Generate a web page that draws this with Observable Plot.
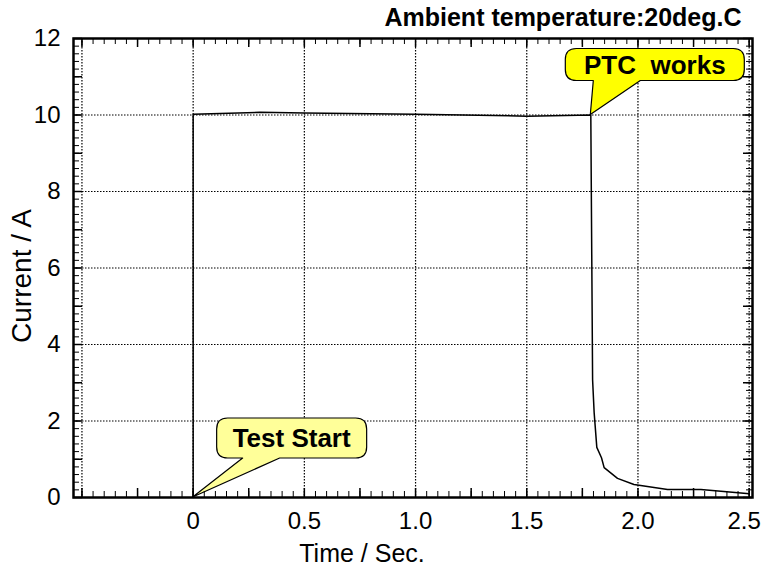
<!DOCTYPE html>
<html><head><meta charset="utf-8">
<script src="https://cdn.jsdelivr.net/npm/d3@7"></script>
<script src="https://cdn.jsdelivr.net/npm/@observablehq/plot@0.6"></script>
<style>html,body{margin:0;padding:0;background:#fff} svg{display:block}</style>
</head><body><div id="chart"></div>
<script>
// ---- data ----
const time    = [0, 0,     0.3,   0.5,   1.0,   1.5,  1.788, 1.796, 1.803, 1.815, 1.836, 1.848, 1.908, 1.982, 2.133, 2.283, 2.463, 2.5];
const current = [0, 10.02, 10.07, 10.05, 10.02, 9.97, 10.0,  3.08,  2.22,  1.31,  1.04,  0.78,  0.50,  0.34,  0.21,  0.21,  0.12,  0.10];
const xTicks = [0, 0.5, 1.0, 1.5, 2.0, 2.5];
const xTickLabels = ["0", "0.5", "1.0", "1.5", "2.0", "2.5"];
const xGrid = [-0.5, 0, 0.5, 1.0, 1.5, 2.0, 2.5];
const yTicks = [0, 2, 4, 6, 8, 10, 12];
const annoLabel = ["Test Start", "PTC  works"];
const annoTime = [0, 1.788];
const annoCurrent = [0, 10.0];
const titleText = "Ambient temperature:20deg.C";
const xLabel = "Time / Sec.";
const yLabel = "Current / A";

// ---- layout / style ----
const W = 763, H = 571;
const mL = 73, mR = 11, mT = 38, mB = 74;
const innerW = W - mL - mR, innerH = H - mT - mB;
const xMinor = d3.range(-10, 51).map(k => k * 0.05);
const xMajor = d3.range(-2, 11).map(k => k * 0.25);
const yMinor = d3.range(0, 61).map(k => k * 0.2);
const yMajor = d3.range(0, 13);
const calloutStyle = [
  {fill: "#ffff99", L: 24, R: 174, T: -79, B: -39, p1: 50, p2: 87, r: 11},
  {fill: "#ffff00", L: -25, R: 154, T: -66, B: -34, p1: 3, p2: 50, r: 11}
];
const series = time.map((t, i) => ({t, c: current[i]}));
const callouts = annoLabel.map((label, i) => ({label, x: annoTime[i], y: annoCurrent[i]}));
const font = "Liberation Sans, Arial, Helvetica, sans-serif";
const dash = "1.5,1.5";
const fmt = d => xTickLabels[xTicks.indexOf(d)];

const chart = Plot.plot({
  width: W, height: H,
  marginLeft: mL, marginRight: mR, marginTop: mT, marginBottom: mB,
  style: {fontFamily: font, background: "white", color: "black"},
  x: {domain: [-0.538, 2.515], axis: null},
  y: {domain: [0, 12], axis: null},
  marks: [
    Plot.gridX(xGrid, {stroke: "black", strokeOpacity: 1, strokeWidth: 1.2, strokeDasharray: dash}),
    Plot.gridY(yTicks, {stroke: "black", strokeOpacity: 1, strokeWidth: 1.2, strokeDasharray: dash}),
    Plot.line(series, {x: "t", y: "c", stroke: "black", strokeWidth: 1.5}),
    (index, scales) => {
      const g = d3.create("svg:g");
      callouts.forEach((c, i) => {
        const s = calloutStyle[i];
        const ax = scales.x(c.x), ay = scales.y(c.y);
        const L = ax + s.L, R = ax + s.R, T = ay + s.T, B = ay + s.B, r = s.r;
        const d = `M${L + r},${T}H${R - r}Q${R},${T} ${R},${T + r}V${B - r}Q${R},${B} ${R - r},${B}` +
          `H${ax + s.p2}L${ax},${ay}L${ax + s.p1},${B}H${L + r}Q${L},${B} ${L},${B - r}V${T + r}Q${L},${T} ${L + r},${T}Z`;
        g.append("path").attr("d", d).attr("fill", s.fill).attr("stroke", "black").attr("stroke-width", 1.2).attr("stroke-linejoin", "round");
        g.append("text").attr("x", (L + R) / 2).attr("y", (T + B) / 2).attr("dy", "0.36em")
          .attr("text-anchor", "middle").attr("font-size", 26).attr("font-weight", "bold")
          .attr("font-family", font).style("white-space", "pre").attr("fill", "black").text(c.label);
      });
      return g.node();
    },
    // inward ticks on all four sides
    Plot.tickX(xMinor, {x: d => d, insetTop: innerH - 6, stroke: "black"}),
    Plot.tickX(xMajor, {x: d => d, insetTop: innerH - 9, stroke: "black", strokeWidth: 1.5}),
    Plot.tickX(xMinor, {x: d => d, insetBottom: innerH - 6, stroke: "black"}),
    Plot.tickX(xMajor, {x: d => d, insetBottom: innerH - 9, stroke: "black", strokeWidth: 1.5}),
    Plot.tickY(yMinor, {y: d => d, insetRight: innerW - 6, stroke: "black"}),
    Plot.tickY(yMajor, {y: d => d, insetRight: innerW - 9, stroke: "black", strokeWidth: 1.5}),
    Plot.tickY(yMinor, {y: d => d, insetLeft: innerW - 6, stroke: "black"}),
    Plot.tickY(yMajor, {y: d => d, insetLeft: innerW - 9, stroke: "black", strokeWidth: 1.5}),
    Plot.frame({stroke: "black", strokeWidth: 2.5}),
    Plot.axisX(xTicks.slice(0, -1), {tickSize: 0, tickPadding: 14, fontSize: 24, label: null, tickFormat: fmt}),
    Plot.axisX(xTicks.slice(-1), {tickSize: 0, tickPadding: 14, fontSize: 24, label: null, tickFormat: fmt, dx: -5}),
    Plot.axisY(yTicks, {tickSize: 0, tickPadding: 13, fontSize: 24, label: null}),
    Plot.text([xLabel], {text: d => d, frameAnchor: "bottom", textAnchor: "middle", dx: -51, dy: 56, fontSize: 25, lineAnchor: "middle"}),
    Plot.text([yLabel], {text: d => d, frameAnchor: "left", textAnchor: "middle", rotate: -90, dx: -51, dy: 8, fontSize: 28, lineAnchor: "middle"}),
    Plot.text([titleText], {text: d => d, frameAnchor: "top-right", textAnchor: "end", dx: -11, dy: -21,
      fontSize: 25, fontWeight: "bold", lineAnchor: "middle"})
  ]
});
document.getElementById("chart").appendChild(chart);
</script>
</body></html>
